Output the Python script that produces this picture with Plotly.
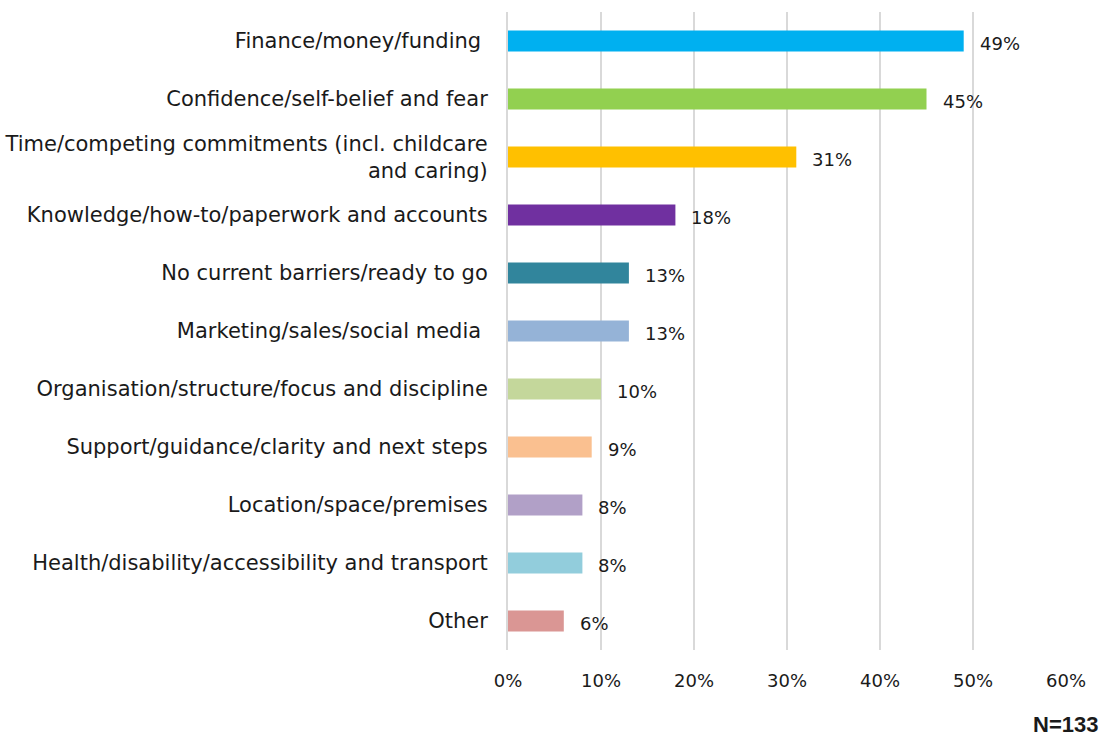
import plotly.graph_objects as go

categories = [
    "Finance/money/funding ",
    "Confidence/self-belief and fear",
    "Time/competing commitments (incl. childcare<br>and caring)",
    "Knowledge/how-to/paperwork and accounts",
    "No current barriers/ready to go",
    "Marketing/sales/social media ",
    "Organisation/structure/focus and discipline",
    "Support/guidance/clarity and next steps",
    "Location/space/premises",
    "Health/disability/accessibility and transport",
    "Other",
]
values = [49, 45, 31, 18, 13, 13, 10, 9, 8, 8, 6]
colors = [
    "#00B0F0", "#92D050", "#FFC000", "#7030A0", "#31859C", "#95B3D7",
    "#C4D79B", "#FAC090", "#B1A0C7", "#92CDDC", "#DA9694",
]
tick_vals = [0, 10, 20, 30, 40, 50, 60]
tick_text = ["0%", "10%", "20%", "30%", "40%", "50%", "60%"]
note = "N=133"

FONT = "DejaVu Sans"
TEXT = "#1a1a1a"

fig = go.Figure()
fig.add_trace(go.Bar(
    x=values,
    y=categories,
    orientation="h",
    marker=dict(color=colors, line=dict(width=0)),
    width=0.36,
    hoverinfo="skip",
))

# value labels to the right of each bar
for c, v in zip(categories, values):
    fig.add_annotation(
        x=v, y=c, text=f"{v}%", showarrow=False,
        xanchor="left", yanchor="middle", xshift=14, yshift=-2,
        font=dict(family=FONT, size=18, color=TEXT),
    )

fig.add_annotation(
    x=1, y=0, xref="paper", yref="paper", xanchor="right", yanchor="middle",
    text=f"<b>{note}</b>", showarrow=False, xshift=34, yshift=-74,
    font=dict(family="Liberation Sans", size=22, color=TEXT),
)

fig.update_layout(
    width=1111, height=736,
    margin=dict(l=508, r=45, t=12, b=86, autoexpand=False),
    paper_bgcolor="white", plot_bgcolor="white",
    showlegend=False,
    bargap=0.64,
    font=dict(family=FONT, size=18, color=TEXT),
)
fig.update_xaxes(
    range=[0, 60], tickvals=tick_vals, ticktext=tick_text,
    showgrid=True, gridcolor="#d9d9d9", gridwidth=2,
    zeroline=False, showline=False, ticks="",
    ticklabelstandoff=18,
    tickfont=dict(family=FONT, size=18, color=TEXT),
)
fig.update_yaxes(
    categoryorder="array", categoryarray=categories[::-1],
    showgrid=False, zeroline=False,
    showline=True, linecolor="#d9d9d9", linewidth=2,
    ticks="", ticklabelstandoff=14,
    tickfont=dict(family=FONT, size=21, color=TEXT),
)

fig.write_html("out.html")
